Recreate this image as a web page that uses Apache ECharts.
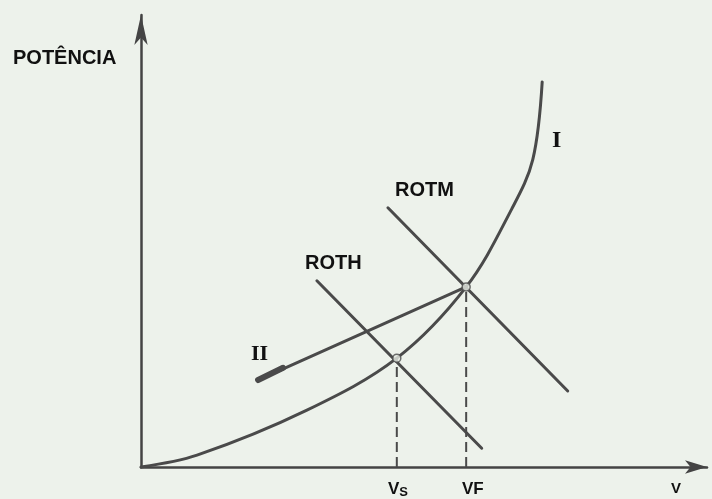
<!DOCTYPE html>
<html>
<head>
<meta charset="utf-8">
<script src="https://cdn.jsdelivr.net/npm/echarts@6/dist/echarts.min.js"></script>
<style>
html,body{margin:0;padding:0;background:#edf2eb;}
#chart{width:712px;height:499px;}
</style>
</head>
<body>
<div id="chart"></div>
<script>
// curva I (potência x velocidade)
var curveI = [[0,0],[10.1,2.7],[29.9,13.0],[46.1,24.9],[58.6,41.2],[66.8,59.0],[70.6,70.3],[72.3,88.1]];
// reta II
var lineII = [[21.1,19.9],[58.6,41.2]];
var lineIIStart = [[21.1,19.9],[25.6,22.7]];
// retas ROTH e ROTM
var rothLine = [[31.7,42.6],[61.4,4.3]];
var rotmLine = [[44.5,59.3],[76.9,17.4]];
// pontos de funcionamento
var vsPoint = [46.1,24.9];
var vfPoint = [58.6,41.2];

var ink = '#4a4a4a';
var chart = echarts.init(document.getElementById('chart'));

function seg(data, w){
	return {
		type:'line', data:data, symbol:'none', silent:true, animation:false,
		lineStyle:{color:ink, width:w, cap:'round'}
	};
}
function dash(p){
	return {
		type:'line', data:[[p[0],0],p], symbol:'none', silent:true, animation:false,
		lineStyle:{color:ink, width:2, type:[10,5]}
	};
}

// curva I desenhada como polyline suavizada (evita as ondulações do smooth da série line)
var curve = {
	type:'custom', data:curveI, silent:true, animation:false,
	renderItem:function(params, api){
		if(params.dataIndex !== 0) return;
		var pts = curveI.map(function(p){ return api.coord(p); });
		return {
			type:'polyline',
			shape:{points:pts, smooth:0.35},
			style:{stroke:ink, lineWidth:3, fill:null, lineCap:'round'}
		};
	}
};

var option = {
	backgroundColor:'#edf2eb',
	grid:{left:141, top:15, right:5, bottom:32},
	xAxis:{
		type:'value', min:0, max:102,
		axisLine:{symbol:['none','arrow'], symbolSize:[10,22], lineStyle:{color:'#444', width:2.5}},
		axisTick:{show:false}, axisLabel:{show:false}, splitLine:{show:false}
	},
	yAxis:{
		type:'value', min:0, max:103.4,
		axisLine:{symbol:['none','arrow'], symbolSize:[10,30], lineStyle:{color:'#444', width:2.5}},
		axisTick:{show:false}, axisLabel:{show:false}, splitLine:{show:false}
	},
	series:[
		curve,
		seg(lineII, 3),
		seg(lineIIStart, 6),
		seg(rothLine, 3),
		seg(rotmLine, 3),
		dash(vsPoint),
		dash(vfPoint),
		{
			type:'scatter', data:[vsPoint, vfPoint], symbol:'circle', symbolSize:8,
			silent:true, animation:false, z:5,
			itemStyle:{color:'#e6ebe4', borderColor:ink, borderWidth:1.5}
		}
	],
	graphic:[
		{type:'text', left:13, top:48, style:{text:'POTÊNCIA', font:'bold 20px "Liberation Sans", Arial', fill:'#111'}},
		{type:'text', left:305, top:253, style:{text:'ROTH', font:'bold 20px "Liberation Sans", Arial', fill:'#111'}},
		{type:'text', left:395, top:180, style:{text:'ROTM', font:'bold 20px "Liberation Sans", Arial', fill:'#111'}},
		{type:'text', left:552, top:129, style:{text:'I', font:'bold 24px "Liberation Serif", serif', fill:'#111'}},
		{type:'text', left:251, top:343, style:{text:'II', font:'bold 22px "Liberation Serif", serif', fill:'#111'}},
		{type:'text', left:388, top:481, style:{
			text:'V{s|S}', font:'bold 17px "Liberation Sans", Arial', fill:'#111',
			rich:{s:{font:'bold 13px "Liberation Sans", Arial', fill:'#111', padding:[6,0,0,0]}}
		}},
		{type:'text', left:462, top:481, style:{text:'VF', font:'bold 17px "Liberation Sans", Arial', fill:'#111'}},
		{type:'text', left:671, top:481, style:{text:'V', font:'bold 15px "Liberation Sans", Arial', fill:'#111'}}
	]
};
chart.setOption(option);
</script>
</body>
</html>
